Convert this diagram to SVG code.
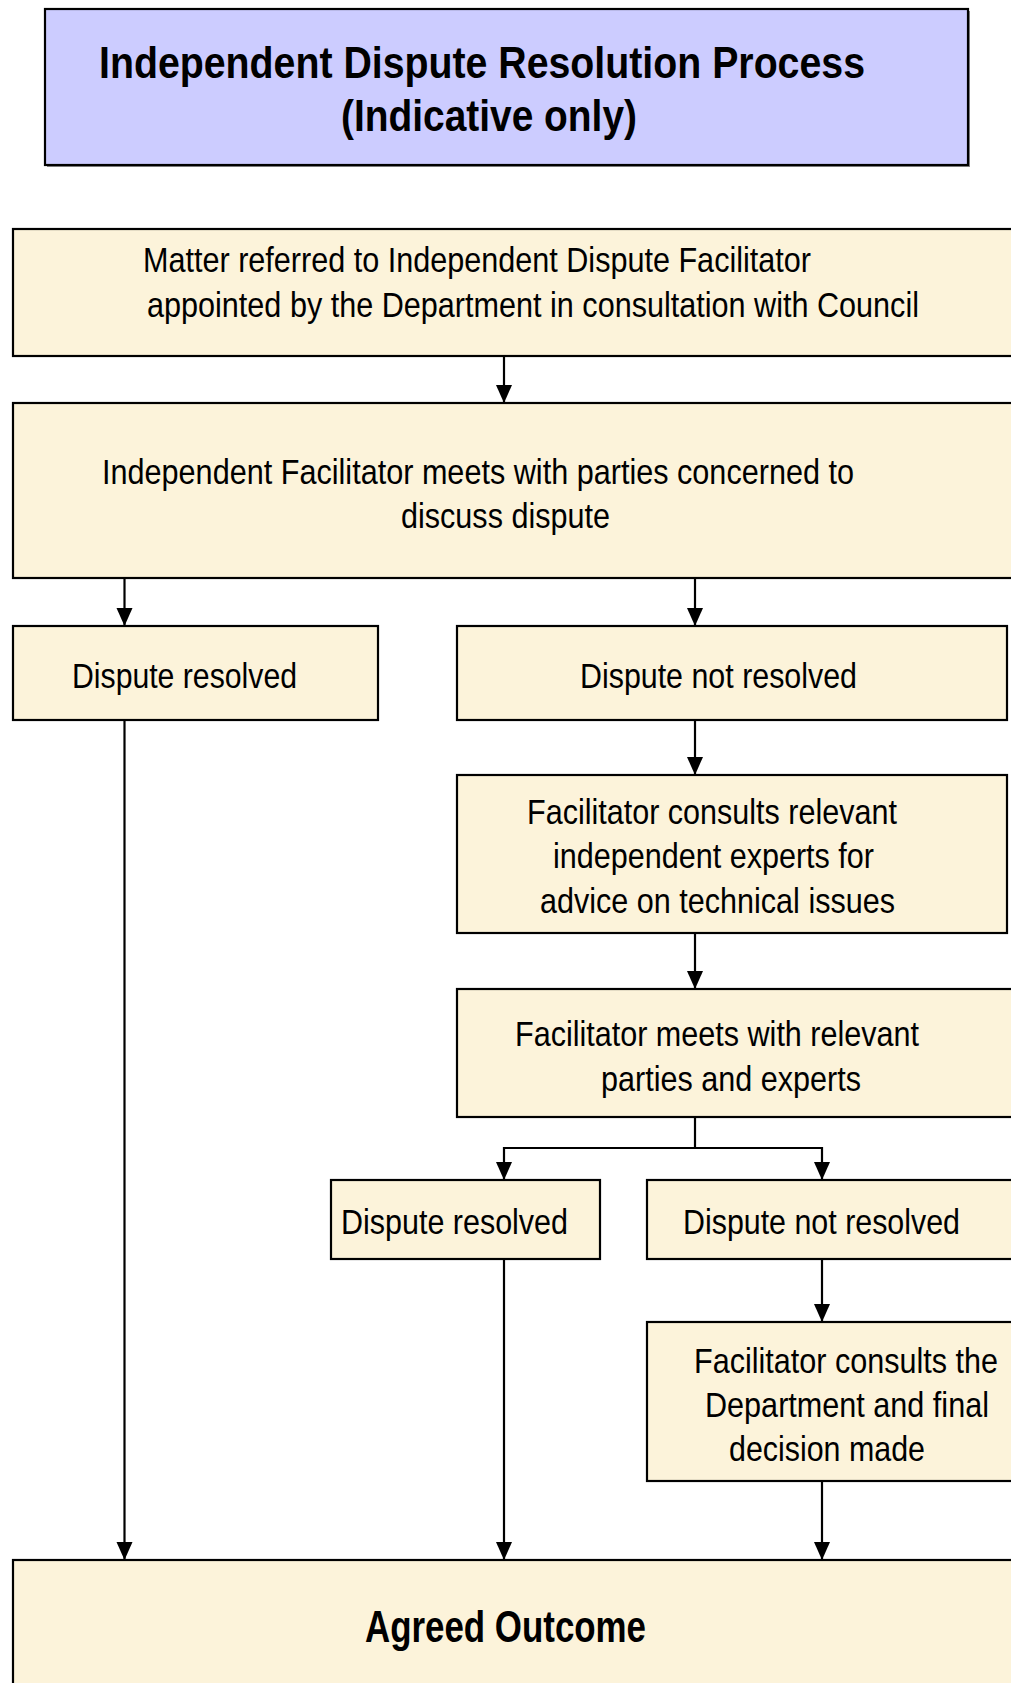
<svg xmlns="http://www.w3.org/2000/svg" width="1011" height="1683" viewBox="0 0 1011 1683">
<style>
.box{fill:#fcf3da;stroke:#000;stroke-width:2.2}
.title{fill:#ccccff;stroke:#000;stroke-width:2.2}
.t{font-family:"Liberation Sans Narrow","Liberation Sans",Arial,sans-serif;font-size:35px;fill:#000}
.b{font-family:"Liberation Sans Narrow","Liberation Sans",Arial,sans-serif;font-size:44px;font-weight:bold;fill:#000}
.c{fill:none;stroke:#000;stroke-width:2.2}
</style>
<defs>
<marker id="ah" markerUnits="userSpaceOnUse" markerWidth="20" markerHeight="20" viewBox="0 0 20 20" refX="18" refY="10" orient="auto">
<path d="M0,2 L18,10 L0,18 Z" fill="#000"/>
</marker>
</defs>
<rect width="1011" height="1683" fill="#fff"/>
<g id="title">
<rect x="47" y="11" width="923" height="156" fill="#888"/>
<rect class="title" x="45" y="9" width="923" height="156"/>
<text class="b" x="99" y="78" textLength="766" lengthAdjust="spacingAndGlyphs">Independent Dispute Resolution Process</text>
<text class="b" x="341" y="131" textLength="296" lengthAdjust="spacingAndGlyphs">(Indicative only)</text>
</g>
<g id="n1">
<rect class="box" x="13" y="229" width="1011" height="127"/>
<text class="t" x="143" y="272" textLength="668" lengthAdjust="spacingAndGlyphs">Matter referred to Independent Dispute Facilitator</text>
<text class="t" x="147" y="317" textLength="772" lengthAdjust="spacingAndGlyphs">appointed by the Department in consultation with Council</text>
</g>
<g id="n2">
<rect class="box" x="13" y="403" width="1011" height="175"/>
<text class="t" x="102" y="484" textLength="752" lengthAdjust="spacingAndGlyphs">Independent Facilitator meets with parties concerned to</text>
<text class="t" x="401" y="528" textLength="209" lengthAdjust="spacingAndGlyphs">discuss dispute</text>
</g>
<g id="n3">
<rect class="box" x="13" y="626" width="365" height="94"/>
<text class="t" x="72" y="688" textLength="225" lengthAdjust="spacingAndGlyphs">Dispute resolved</text>
</g>
<g id="n4">
<rect class="box" x="457" y="626" width="550" height="94"/>
<text class="t" x="580" y="688" textLength="277" lengthAdjust="spacingAndGlyphs">Dispute not resolved</text>
</g>
<g id="n5">
<rect class="box" x="457" y="775" width="550" height="158"/>
<text class="t" x="527" y="824" textLength="370" lengthAdjust="spacingAndGlyphs">Facilitator consults relevant</text>
<text class="t" x="553" y="868" textLength="321" lengthAdjust="spacingAndGlyphs">independent experts for</text>
<text class="t" x="540" y="913" textLength="355" lengthAdjust="spacingAndGlyphs">advice on technical issues</text>
</g>
<g id="n6">
<rect class="box" x="457" y="989" width="600" height="128"/>
<text class="t" x="515" y="1046" textLength="404" lengthAdjust="spacingAndGlyphs">Facilitator meets with relevant</text>
<text class="t" x="601" y="1091" textLength="260" lengthAdjust="spacingAndGlyphs">parties and experts</text>
</g>
<g id="n7">
<rect class="box" x="331" y="1180" width="269" height="79"/>
<text class="t" x="341" y="1234" textLength="227" lengthAdjust="spacingAndGlyphs">Dispute resolved</text>
</g>
<g id="n8">
<rect class="box" x="647" y="1180" width="420" height="79"/>
<text class="t" x="683" y="1234" textLength="277" lengthAdjust="spacingAndGlyphs">Dispute not resolved</text>
</g>
<g id="n9">
<rect class="box" x="647" y="1322" width="420" height="159"/>
<text class="t" x="694" y="1373" textLength="304" lengthAdjust="spacingAndGlyphs">Facilitator consults the</text>
<text class="t" x="705" y="1417" textLength="284" lengthAdjust="spacingAndGlyphs">Department and final</text>
<text class="t" x="729" y="1461" textLength="196" lengthAdjust="spacingAndGlyphs">decision made</text>
</g>
<g id="n10">
<rect class="box" x="13" y="1560" width="1040" height="160"/>
<text class="b" x="365" y="1642" textLength="281" lengthAdjust="spacingAndGlyphs">Agreed Outcome</text>
</g>
<g id="connectors">
<line class="c" x1="504" y1="356" x2="504" y2="403" marker-end="url(#ah)"/>
<line class="c" x1="124.5" y1="578" x2="124.5" y2="626" marker-end="url(#ah)"/>
<line class="c" x1="695" y1="578" x2="695" y2="626" marker-end="url(#ah)"/>
<line class="c" x1="695" y1="720" x2="695" y2="775" marker-end="url(#ah)"/>
<line class="c" x1="695" y1="933" x2="695" y2="989" marker-end="url(#ah)"/>
<line class="c" x1="695" y1="1117" x2="695" y2="1148"/>
<polyline class="c" points="695,1148 504,1148 504,1180" marker-end="url(#ah)"/>
<polyline class="c" points="695,1148 822,1148 822,1180" marker-end="url(#ah)"/>
<line class="c" x1="124.5" y1="720" x2="124.5" y2="1560" marker-end="url(#ah)"/>
<line class="c" x1="504" y1="1259" x2="504" y2="1560" marker-end="url(#ah)"/>
<line class="c" x1="822" y1="1259" x2="822" y2="1322" marker-end="url(#ah)"/>
<line class="c" x1="822" y1="1481" x2="822" y2="1560" marker-end="url(#ah)"/>
</g>
</svg>
